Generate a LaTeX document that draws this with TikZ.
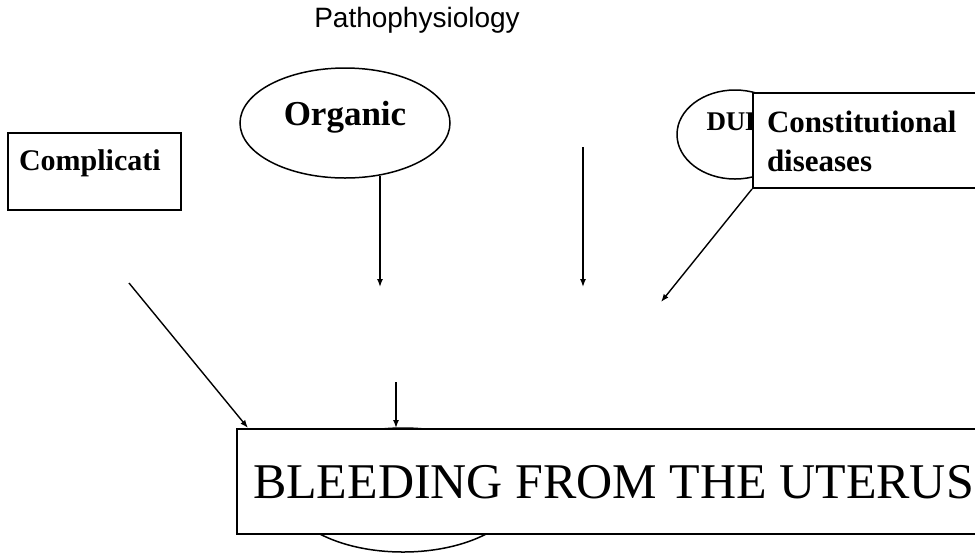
\documentclass[tikz,border=0pt]{standalone}
\usepackage{fontspec}
\setmainfont{Liberation Serif}
\newfontfamily\arialfont{Liberation Sans}
\usetikzlibrary{shapes.geometric,arrows.meta}

\tikzset{
  oval/.style={draw, ellipse, line width=0.75pt, inner sep=0pt, fill=white},
  causebox/.style={draw, rectangle, line width=1pt, fill=white, inner ysep=0pt, align=left},
  arr/.style={-{Latex[length=4pt,width=3pt]}, line width=0.7pt}
}

\begin{document}
\begin{tikzpicture}[x=0.5pt, y=-0.5pt]
  \useasboundingbox (0,0) rectangle (975,553);
  \clip (0,0) rectangle (975,553);

  \node[font=\arialfont\fontsize{14}{16}\selectfont, anchor=base] (title) at (417,27) {Pathophysiology};

  % ovals, the lower two partly under the boxes
  \node[oval, minimum width=105pt, minimum height=55pt, font=\bfseries\fontsize{17.5}{20}\selectfont, text height=8pt, text depth=6pt] (organic) at (345,123) {Organic};
  \node[oval, minimum width=58pt, minimum height=44.5pt, font=\bfseries\fontsize{13.5}{16}\selectfont, text height=6pt, text depth=10.5pt] (dub) at (735,134.5) {DUB};
  \node[oval, minimum width=118pt, minimum height=62pt] (under) at (403,490) {};

  % boxes
  \node[causebox, anchor=north west, inner xsep=5.5pt, text width=75.5pt, text height=18.5pt, text depth=20pt, font=\bfseries\fontsize{15}{18}\selectfont] (compl) at (7,132) {Complicati};
  \node[causebox, anchor=north west, inner xsep=7pt, text width=118pt, text height=19.5pt, text depth=28pt, font=\bfseries\fontsize{15.5}{19.5}\selectfont] (constit) at (752,92) {Constitutional\\diseases};
  \node[causebox, anchor=north west, inner xsep=8pt, text height=34.5pt, text depth=18pt, font=\fontsize{25}{30}\selectfont] (bleed) at (236,428) {BLEEDING FROM THE UTERUS};

  % arrows
  \coordinate (orgfoot) at (380,287);
  \coordinate (midtop) at (583,147);
  \coordinate (midfoot) at (583,287);
  \coordinate (constfoot) at (661,302);
  \coordinate (compltail) at (129,283);
  \coordinate (bleedtail) at (396,382);

  \draw[arr] (orgfoot |- organic.-56) -- (orgfoot);
  \draw[arr] (midtop) -- (midfoot);
  \draw[arr] (constit.south west) -- (constfoot);
  \draw[arr] (compltail) -- ([xshift=6pt]bleed.north west);
  \draw[arr] (bleedtail) -- (bleedtail |- bleed.north);
\end{tikzpicture}
\end{document}
